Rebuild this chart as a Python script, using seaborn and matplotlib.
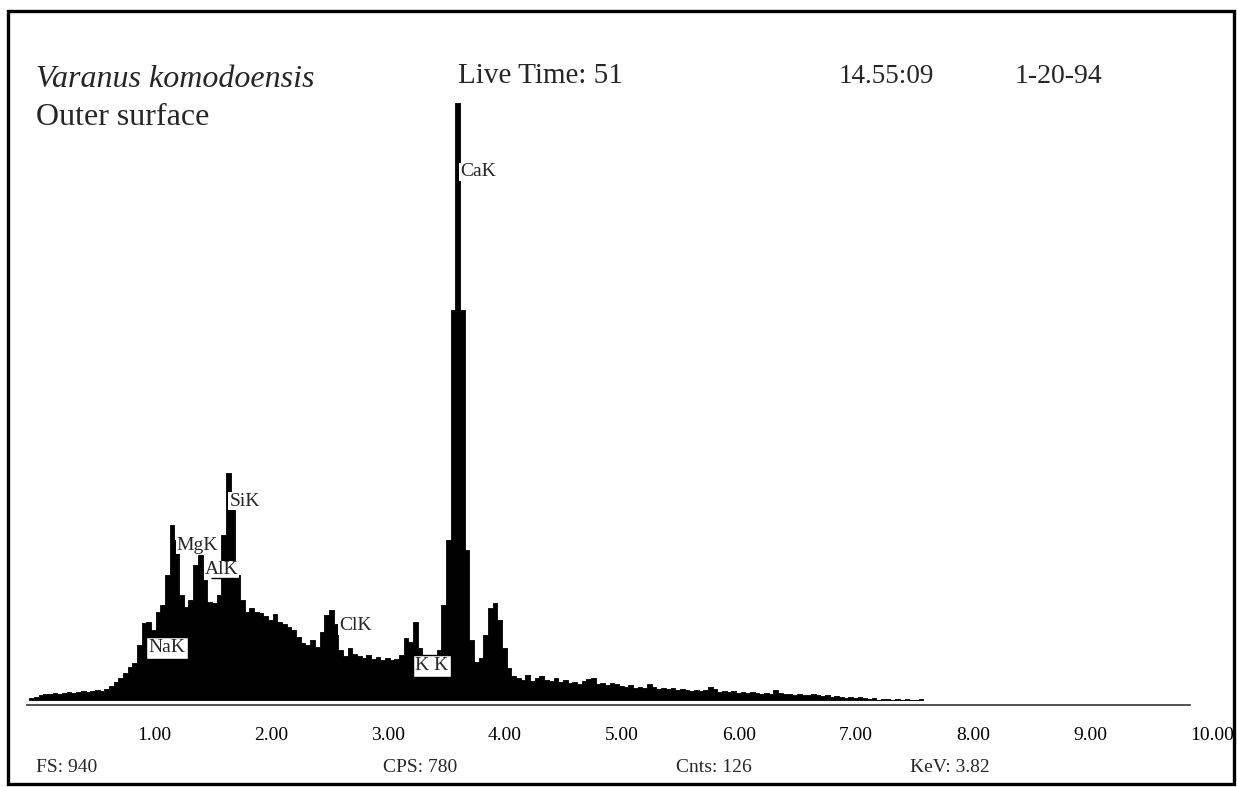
import numpy as np
import pandas as pd
import matplotlib
matplotlib.use('Agg')
import matplotlib.pyplot as plt
import seaborn as sns
from matplotlib.patches import Rectangle

# EDS spectrum, counts per 0.04 keV channel (first channel centred at 0.10 keV)
channel_start_kev = 0.10
channel_width_kev = 0.04
counts = [
    2, 3, 5, 6, 6, 7, 6, 7, 8, 7,
    8, 9, 8, 9, 10, 9, 11, 14, 18, 22,
    27, 33, 37, 55, 77, 78, 70, 88, 95, 125,
    175, 160, 105, 93, 100, 135, 145, 120, 98, 97,
    105, 165, 227, 200, 125, 100, 88, 92, 88, 87,
    84, 80, 86, 78, 76, 73, 70, 63, 57, 55,
    60, 53, 68, 85, 90, 76, 50, 44, 52, 46,
    44, 42, 45, 41, 43, 40, 42, 40, 41, 45,
    62, 58, 78, 52, 42, 40, 42, 50, 95, 160,
    390, 597, 390, 150, 60, 38, 42, 65, 92, 97,
    80, 52, 32, 24, 22, 20, 25, 19, 22, 24,
    20, 19, 22, 18, 20, 17, 18, 16, 19, 21,
    22, 16, 17, 15, 17, 16, 14, 13, 15, 12,
    13, 12, 16, 13, 11, 12, 11, 12, 10, 11,
    10, 9, 10, 9, 10, 13, 11, 8, 9, 8,
    9, 7, 8, 7, 8, 7, 6, 7, 6, 10,
    7, 6, 6, 5, 6, 5, 5, 6, 5, 4,
    5, 3, 4, 3, 2, 3, 2, 3, 2, 1,
    2, 0, 1, 1, 0, 1, 0, 1, 0, 0,
    1,
]
energy_kev = [round(channel_start_kev + channel_width_kev * i, 2) for i in range(len(counts))]
spectrum = pd.DataFrame({'keV': energy_kev, 'counts': counts})

tick_values = [1, 2, 3, 4, 5, 6, 7, 8, 9, 10]
tick_labels = ['1.00', '2.00', '3.00', '4.00', '5.00', '6.00', '7.00', '8.00', '9.00', '10.00']

# element lines: (label, keV, counts)
peak_labels = [
    ('CaK', 3.76, 528),
    ('SiK', 1.79, 199),
    ('MgK', 1.34, 155),
    ('AlK', 1.58, 130),
    ('ClK', 2.73, 74),
]
boxed_labels = [
    ('NaK', 1.256, 52),
    ('K K', 3.52, 34),
]

header = {
    'species': 'Varanus komodoensis',
    'sample': 'Outer surface',
    'live': 'Live Time: 51',
    'time': '14.55:09',
    'date': '1-20-94',
}
footer = ['FS: 940', 'CPS: 780', 'Cnts: 126', 'KeV: 3.82']
footer_x = [36, 383, 676, 910]

sns.set_style('white')
plt.rcParams['font.family'] = ['Liberation Serif', 'DejaVu Serif']

W, H = 1237, 787
fig = plt.figure(figsize=(W / 100, H / 100), dpi=100)
ax = fig.add_axes([27 / W, (H - 705) / H, (1190 - 27) / W, (705 - 73) / H])

sns.histplot(data=spectrum, x='keV', weights='counts', binwidth=channel_width_kev,
             binrange=(channel_start_kev - channel_width_kev / 2,
                       energy_kev[-1] + channel_width_kev / 2),
             element='step', fill=True, color='black', alpha=1, linewidth=0.6,
             edgecolor='black', ax=ax)

ax.set_xlim(0.06, 10.0)
ax.set_ylim(-5, 627)
ax.set_xlabel('')
ax.set_ylabel('')
ax.set_yticks([])
ax.set_xticks(tick_values)
ax.set_xticklabels(tick_labels, ha='left', fontsize=14)
ax.tick_params(axis='x', direction='out', length=5.5, width=1.2, color='#222222',
               pad=10, labelcolor='black')
for side in ['left', 'right', 'top']:
    ax.spines[side].set_visible(False)
ax.spines['bottom'].set_color('#333333')
ax.spines['bottom'].set_linewidth(1.2)
ax.patch.set_alpha(0)

for text, xk, yc in peak_labels:
    ax.text(xk, yc, text, fontsize=14, ha='left', va='center', zorder=5,
            bbox=dict(boxstyle='square,pad=0.05', fc='white', ec='none'))
ax.hlines(122, 1.63, 1.87, color='black', lw=1.0, zorder=6)
for text, xk, yc in boxed_labels:
    ax.text(xk, yc, text, fontsize=14, ha='center', va='center', zorder=5,
            bbox=dict(boxstyle='square,pad=0.12', fc='white', ec='black', lw=1.0))

def fig_text(px, py, s, **kw):
    fig.text(px / W, (H - py) / H, s, **kw)

fig_text(36, 87, header['species'], fontsize=23, style='italic', va='baseline')
fig_text(36, 125, header['sample'], fontsize=23, va='baseline')
fig_text(458, 83, header['live'], fontsize=21, va='baseline')
fig_text(839, 83, header['time'], fontsize=19.5, va='baseline')
fig_text(1015, 83, header['date'], fontsize=20, va='baseline')
for s, px in zip(footer, footer_x):
    fig_text(px, 767, s, fontsize=14, va='center')

fig.patches.append(Rectangle((8 / W, 3 / H), (1234 - 8) / W, (784 - 11) / H,
                             transform=fig.transFigure, fill=False, ec='black',
                             lw=2.4, zorder=10))

fig.savefig('out.png', dpi=100, facecolor='white')
